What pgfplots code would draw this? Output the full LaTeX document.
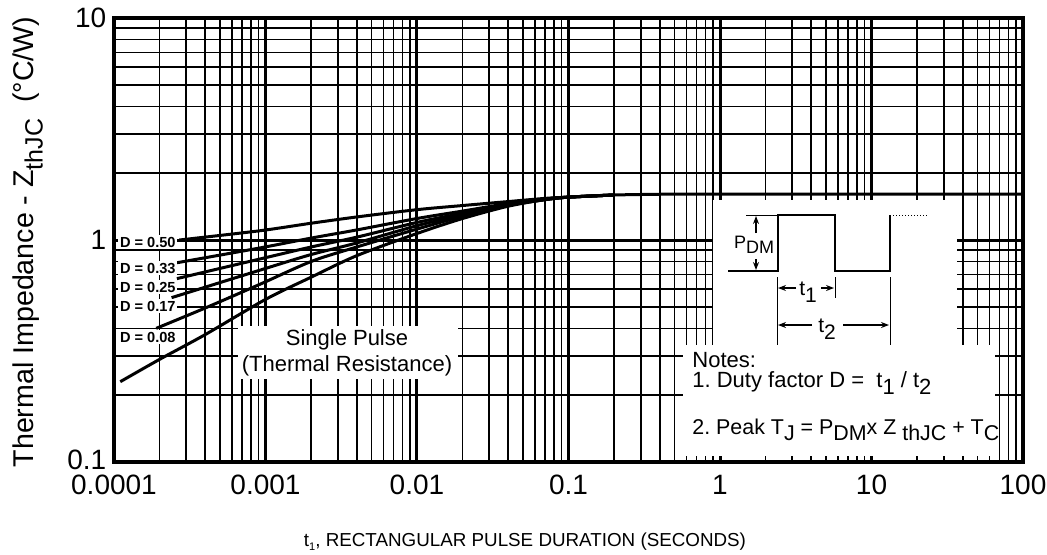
\documentclass[border=0pt]{standalone}
\usepackage{fontspec}
\setmainfont{Liberation Sans}
\usepackage{pgfplots}
\pgfplotsset{compat=1.18}
\usetikzlibrary{arrows.meta}
\frenchspacing

% lowered subscript in the text font
\newcommand\lo[2][0.45ex]{\raisebox{-#1}{#2}}

\begin{document}
\begin{tikzpicture}
\begin{axis}[
    at={(0,0)}, anchor=south west,
    scale only axis, width=454.5pt, height=222pt,
    xmode=log, ymode=log,
    xmin=1e-4, xmax=100, ymin=0.1, ymax=10,
    xtick={1e-4,1e-3,1e-2,1e-1,1,10,100},
    xticklabels={0.0001,0.001,0.01,0.1,1,10,100},
    ytick={0.1,1,10}, yticklabels={\raisebox{2.5pt}{0.1},1,10},
    grid=both,
    major grid style={black, line width=1.5pt},
    minor grid style={black, line width=0.8pt},
    axis line style={black, line width=2pt},
    major tick length=0pt, minor tick length=0pt,
    tick label style={font=\fontsize{14}{16}\selectfont, inner sep=1pt},
    xticklabel style={yshift=-5.3pt},
    yticklabel style={xshift=-2.7pt},
]
% single pulse
\addplot[black, line width=1.5pt, smooth] coordinates {
    (1.1e-4,0.23) (2e-4,0.29) (4e-4,0.375) (1e-3,0.54) (2e-3,0.68) (4e-3,0.85)
    (1e-2,1.07) (2e-2,1.25) (4e-2,1.42) (7e-2,1.52) (0.1,1.56) (0.2,1.595)
    (0.5,1.61) (1,1.61) (100,1.61)
};
% D = 0.08
\addplot[black, line width=1.5pt, smooth] coordinates {
    (1.9e-4,0.40) (4e-4,0.494) (9.1e-4,0.63) (2e-3,0.80) (4e-3,0.93)
    (1e-2,1.12) (2e-2,1.28) (4e-2,1.43) (7e-2,1.52) (0.1,1.56) (0.2,1.595)
};
% D = 0.17
\addplot[black, line width=1.5pt, smooth] coordinates {
    (2.4e-4,0.55) (9.1e-4,0.73) (2e-3,0.86) (4e-3,0.97)
    (1e-2,1.16) (2e-2,1.30) (4e-2,1.44) (7e-2,1.52) (0.1,1.56) (0.2,1.595)
};
% D = 0.25
\addplot[black, line width=1.5pt, smooth] coordinates {
    (2.6e-4,0.67) (9.1e-4,0.82) (2e-3,0.93) (4e-3,1.03)
    (1e-2,1.20) (2e-2,1.32) (4e-2,1.45) (7e-2,1.53) (0.1,1.56) (0.2,1.595)
};
% D = 0.33
\addplot[black, line width=1.5pt, smooth] coordinates {
    (2.6e-4,0.79) (9.1e-4,0.92) (2e-3,1.02) (4e-3,1.11)
    (1e-2,1.25) (2e-2,1.35) (4e-2,1.46) (7e-2,1.53) (0.1,1.56) (0.2,1.595)
};
% D = 0.50
\addplot[black, line width=1.5pt, smooth] coordinates {
    (2.7e-4,1.00) (9.1e-4,1.10) (2e-3,1.19) (4e-3,1.27)
    (1e-2,1.37) (2e-2,1.43) (4e-2,1.49) (7e-2,1.54) (0.1,1.56) (0.2,1.595)
};
\end{axis}

% annotations, in pixels of the reference (y downwards)
\begin{scope}[x=0.5pt, y=-0.5pt, shift={(-57pt,231pt)}]
  % duty factor labels
  \begin{scope}[every node/.style={fill=white, inner sep=0.8pt, anchor=west,
      font=\bfseries\fontsize{7.3}{8}\selectfont}]
    \node at (118,242) {D = 0.50};
    \node at (118,268) {D = 0.33};
    \node at (118,287) {D = 0.25};
    \node at (118,306) {D = 0.17};
    \node at (118,337) {D = 0.08};
  \end{scope}

  % single pulse note
  \fill[white] (238,326) rectangle (458,379);
  \node[font=\fontsize{11}{12}\selectfont] at (347,340) {Single Pulse};
  \node[font=\fontsize{11}{12}\selectfont] at (347,366) {(Thermal Resistance)};

  % inset
  \fill[white] (713,200) rectangle (957,345);
  \fill[white] (683,345) rectangle (995,456);
  \draw[line width=0.6pt] (728,271) -- (778,271) -- (778,215) -- (835,215)
      -- (835,271) -- (890,271) -- (890,215);
  \draw[line width=0.5pt, densely dotted] (890,215) -- (928,215);
  \draw[line width=0.4pt] (746,215) -- (778,215);
  \draw[line width=0.6pt, -{Stealth[length=4pt]}] (756,233) -- (756,216);
  \draw[line width=0.6pt, -{Stealth[length=4pt]}] (756,259) -- (756,270);
  \node[font=\fontsize{9}{10}\selectfont, inner sep=0pt] at (754,245)
      {P\lo[0.5ex]{DM}};
  \draw[line width=0.5pt] (777,277) -- (777,345);
  \draw[line width=0.5pt] (835,277) -- (835,298);
  \draw[line width=0.5pt] (890,277) -- (890,345);
  \draw[line width=0.6pt, -{Stealth[length=4pt]}] (796,288) -- (778,288);
  \draw[line width=0.6pt, -{Stealth[length=4pt]}] (821,288) -- (834,288);
  \node[font=\fontsize{10.5}{11}\selectfont, inner sep=0pt] at (808,292)
      {t\lo[0.6ex]{1}};
  \draw[line width=0.6pt, -{Stealth[length=4pt]}] (812,325) -- (778,325);
  \draw[line width=0.6pt, -{Stealth[length=4pt]}] (843,325) -- (889,325);
  \node[font=\fontsize{10.5}{11}\selectfont, inner sep=0pt] at (827,329)
      {t\lo[0.6ex]{2}};

  \begin{scope}[every node/.style={anchor=west, inner sep=0pt,
      font=\fontsize{11}{13}\selectfont}]
    \node at (692,360) {Notes:};
    \node at (692,383) {1. Duty factor D =\ \ t\lo[0.55ex]{1} / t\lo[0.55ex]{2}};
    \node[font=\fontsize{10.7}{13}\selectfont] at (692,430)
        {2. Peak T\lo[0.5ex]{J} = P\lo[0.55ex]{DM}x Z\lo[0.55ex]{ thJC} + T\lo[0.55ex]{C}};
  \end{scope}

  % axis titles
  \node[rotate=90, anchor=base, font=\fontsize{14.3}{16}\selectfont] at (34,242)
      {Thermal Impedance - Z\lo[0.3em]{\fontsize{12.5}{14}\selectfont thJC}\ \ (°C/W)};
  \node[font=\fontsize{9.4}{11}\selectfont] at (525,542)
      {t\lo[0.4ex]{\fontsize{5.5}{6}\selectfont 1}, RECTANGULAR PULSE DURATION (SECONDS)};

  \pgfresetboundingbox
  \useasboundingbox (0,0) rectangle (1047,554);
\end{scope}
\end{tikzpicture}
\end{document}
